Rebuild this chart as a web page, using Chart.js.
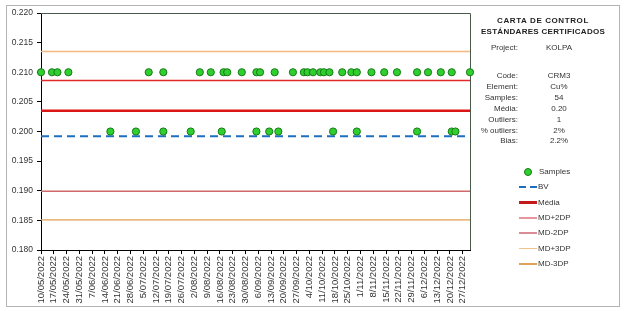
<!DOCTYPE html>
<html>
<head>
<meta charset="utf-8">
<script src="https://cdn.jsdelivr.net/npm/chart.js@4.4.0/dist/chart.umd.min.js"></script>
<style>
  body { margin: 0; background: #fff; font-family: Arial, "Liberation Sans", sans-serif; }
  #wrap { position: relative; width: 626px; height: 311px; overflow: hidden; }
  #frame { position: absolute; left: 6px; top: 5px; width: 612px; height: 300px; border: 1px solid #b4b4b4; }
  #chart { position: absolute; left: 0; top: 0; }
  .t { position: absolute; font-size: 8px; line-height: 10px; color: #333; white-space: nowrap; }
  .title { font-weight: bold; color: #222; text-align: center; left: 470px; width: 146px; }
  .lbl { text-align: right; left: 440px; width: 78px; }
  .val { text-align: center; left: 524px; width: 70px; }
  .sym { position: absolute; }
</style>
</head>
<body>
<div id="wrap">
  <div id="frame"></div>
  <canvas id="chart" width="626" height="311"></canvas>
  <div id="panel"></div>
  <div id="legend"></div>
</div>
<script>
// etiquetas del eje X (cada 7 días)
const tickLabels = [
  '10/05/2022', '17/05/2022', '24/05/2022', '31/05/2022', '7/06/2022', '14/06/2022',
  '21/06/2022', '28/06/2022', '5/07/2022', '12/07/2022', '19/07/2022', '26/07/2022',
  '2/08/2022', '9/08/2022', '16/08/2022', '23/08/2022', '30/08/2022', '6/09/2022',
  '13/09/2022', '20/09/2022', '27/09/2022', '4/10/2022', '11/10/2022', '18/10/2022',
  '25/10/2022', '1/11/2022', '8/11/2022', '15/11/2022', '22/11/2022', '29/11/2022',
  '6/12/2022', '13/12/2022', '20/12/2022', '27/12/2022'
];
const axisStart = '10/05/2022';
const axisEnd = '31/12/2022';

// muestras
const sampleDates = [
  '10/05/2022', '16/05/2022', '19/05/2022', '25/05/2022', '17/06/2022', '1/07/2022',
  '8/07/2022', '16/07/2022', '16/07/2022', '31/07/2022', '5/08/2022', '11/08/2022',
  '17/08/2022', '18/08/2022', '20/08/2022', '28/08/2022', '5/09/2022', '5/09/2022',
  '7/09/2022', '12/09/2022', '15/09/2022', '17/09/2022', '25/09/2022', '1/10/2022',
  '3/10/2022', '6/10/2022', '10/10/2022', '12/10/2022', '15/10/2022', '17/10/2022',
  '22/10/2022', '27/10/2022', '30/10/2022', '30/10/2022', '7/11/2022', '14/11/2022',
  '21/11/2022', '2/12/2022', '2/12/2022', '8/12/2022', '15/12/2022', '21/12/2022',
  '21/12/2022', '23/12/2022', '31/12/2022'
];
const sampleValues = [
  0.210, 0.210, 0.210, 0.210, 0.200, 0.200,
  0.210, 0.210, 0.200, 0.200, 0.210, 0.210,
  0.200, 0.210, 0.210, 0.210, 0.210, 0.200,
  0.210, 0.200, 0.210, 0.200, 0.210, 0.210,
  0.210, 0.210, 0.210, 0.210, 0.210, 0.200,
  0.210, 0.210, 0.210, 0.200, 0.210, 0.210,
  0.210, 0.210, 0.200, 0.210, 0.210, 0.210,
  0.200, 0.200, 0.210
];

// líneas de control
const lineLabels = ['BV', 'Média', 'MD+2DP', 'MD-2DP', 'MD+3DP', 'MD-3DP'];
const lineValues = [0.1992, 0.2035, 0.2086, 0.1899, 0.2135, 0.1851];

// cuadro de resumen
const infoLabels = ['Project:', 'Code:', 'Element:', 'Samples:', 'Média:', 'Outliers:', '% outliers:', 'Bias:'];
const infoValues = ['KOLPA', 'CRM3', 'Cu%', '54', '0.20', '1', '2%', '2.2%'];

const lineStyles = [
  { borderColor: '#1f6fbf', borderWidth: 2, borderDash: [8, 5] },
  { borderColor: '#dd1414', borderWidth: 2.5 },
  { borderColor: '#e02a2a', borderWidth: 1.5 },
  { borderColor: '#d06a6a', borderWidth: 1.5 },
  { borderColor: '#f5b880', borderWidth: 1.3 },
  { borderColor: '#e0a050', borderWidth: 1.2 }
];
const legendStyles = [
  { color: '#1f6fbf', width: 2, dash: true },
  { color: '#c41a1a', width: 2.5 },
  { color: '#e8969e', width: 2 },
  { color: '#dc8c94', width: 2 },
  { color: '#f4c08c', width: 1.5 },
  { color: '#e0a258', width: 1.5 }
];

function dayOf(str) {
  const [d, m, y] = str.split('/').map(Number);
  const [d0, m0, y0] = axisStart.split('/').map(Number);
  return Math.round((Date.UTC(y, m - 1, d) - Date.UTC(y0, m0 - 1, d0)) / 86400000);
}

const xMax = dayOf(axisEnd);

const datasets = [{
  label: 'Samples',
  data: sampleDates.map((d, i) => ({ x: dayOf(d), y: sampleValues[i] })),
  backgroundColor: '#2fcf2f',
  borderColor: '#147a14',
  borderWidth: 1,
  pointRadius: 3.6,
  showLine: false,
  clip: false
}];
lineLabels.forEach((lab, i) => {
  datasets.push({
    label: lab,
    data: [{ x: 0, y: lineValues[i] }, { x: xMax, y: lineValues[i] }],
    showLine: true,
    pointRadius: 0,
    ...lineStyles[i]
  });
});

// borde del área de trazado
const plotBorder = {
  id: 'plotBorder',
  beforeDatasetsDraw(chart) {
    const { ctx, chartArea: a } = chart;
    ctx.save();
    ctx.strokeStyle = '#4a5a4a';
    ctx.lineWidth = 1;
    ctx.beginPath();
    ctx.moveTo(a.left, a.top + 0.5);
    ctx.lineTo(a.right + 0.5, a.top + 0.5);
    ctx.lineTo(a.right + 0.5, a.bottom);
    ctx.stroke();
    ctx.restore();
  }
};

Chart.defaults.font.family = 'Arial, "Liberation Sans", sans-serif';
Chart.defaults.color = '#333';

const chart = new Chart(document.getElementById('chart'), {
  type: 'scatter',
  data: { datasets },
  options: {
    responsive: false,
    animation: false,
    devicePixelRatio: 1,
    layout: { padding: { left: 0, right: 156, top: 13, bottom: 5 } },
    plugins: { legend: { display: false }, tooltip: { enabled: false } },
    scales: {
      x: {
        type: 'linear',
        min: 0,
        max: xMax,
        afterFit: s => { s.height = 56; },
        grid: { drawOnChartArea: false, color: '#000', tickLength: 4 },
        border: { color: '#000', width: 1 },
        ticks: {
          stepSize: 7,
          includeBounds: false,
          autoSkip: false,
          minRotation: 90,
          maxRotation: 90,
          padding: 2,
          font: { size: 9.5 },
          color: '#333',
          callback: v => tickLabels[Math.round(v / 7)]
        }
      },
      y: {
        min: 0.18,
        max: 0.22,
        afterFit: s => { s.width = 41; },
        grid: { drawOnChartArea: false, color: '#000', tickLength: 4 },
        border: { color: '#000', width: 1 },
        ticks: {
          stepSize: 0.005,
          padding: 4,
          font: { size: 8.5 },
          color: '#333',
          callback: v => v.toFixed(3)
        }
      }
    }
  },
  plugins: [plotBorder]
});

// panel de texto
const panel = document.getElementById('panel');
function addText(cls, text, top) {
  const el = document.createElement('div');
  el.className = 't ' + cls;
  el.textContent = text;
  el.style.top = top + 'px';
  panel.appendChild(el);
  return el;
}
addText('title', 'CARTA DE CONTROL', 16).style.letterSpacing = '0.6px';
addText('title', 'ESTÁNDARES CERTIFICADOS', 27).style.letterSpacing = '0.3px';
infoLabels.forEach((lab, i) => {
  const top = i === 0 ? 43 : 71 + (i - 1) * 10.9;
  addText('lbl', lab, top);
  addText('val', infoValues[i], top);
});

// leyenda
const legend = document.getElementById('legend');
chart.data.datasets.forEach((ds, i) => {
  const cy = 171.7 + i * 15.4;
  const sym = document.createElement('div');
  sym.className = 'sym';
  if (i === 0) {
    Object.assign(sym.style, {
      left: '524px', top: (cy - 3.5) + 'px', width: '6px', height: '6px',
      borderRadius: '50%', background: ds.backgroundColor, border: '1px solid ' + ds.borderColor
    });
  } else {
    const st = legendStyles[i - 1];
    Object.assign(sym.style, {
      left: '519px', top: (cy - st.width / 2) + 'px', width: '18px', height: st.width + 'px',
      background: st.dash
        ? 'repeating-linear-gradient(90deg,' + st.color + ' 0 7px, transparent 7px 11px)'
        : st.color
    });
  }
  legend.appendChild(sym);
  const txt = document.createElement('div');
  txt.className = 't';
  txt.textContent = ds.label;
  txt.style.left = (i === 0 ? 539 : 538) + 'px';
  txt.style.top = (cy - 5) + 'px';
  legend.appendChild(txt);
});
</script>
</body>
</html>
